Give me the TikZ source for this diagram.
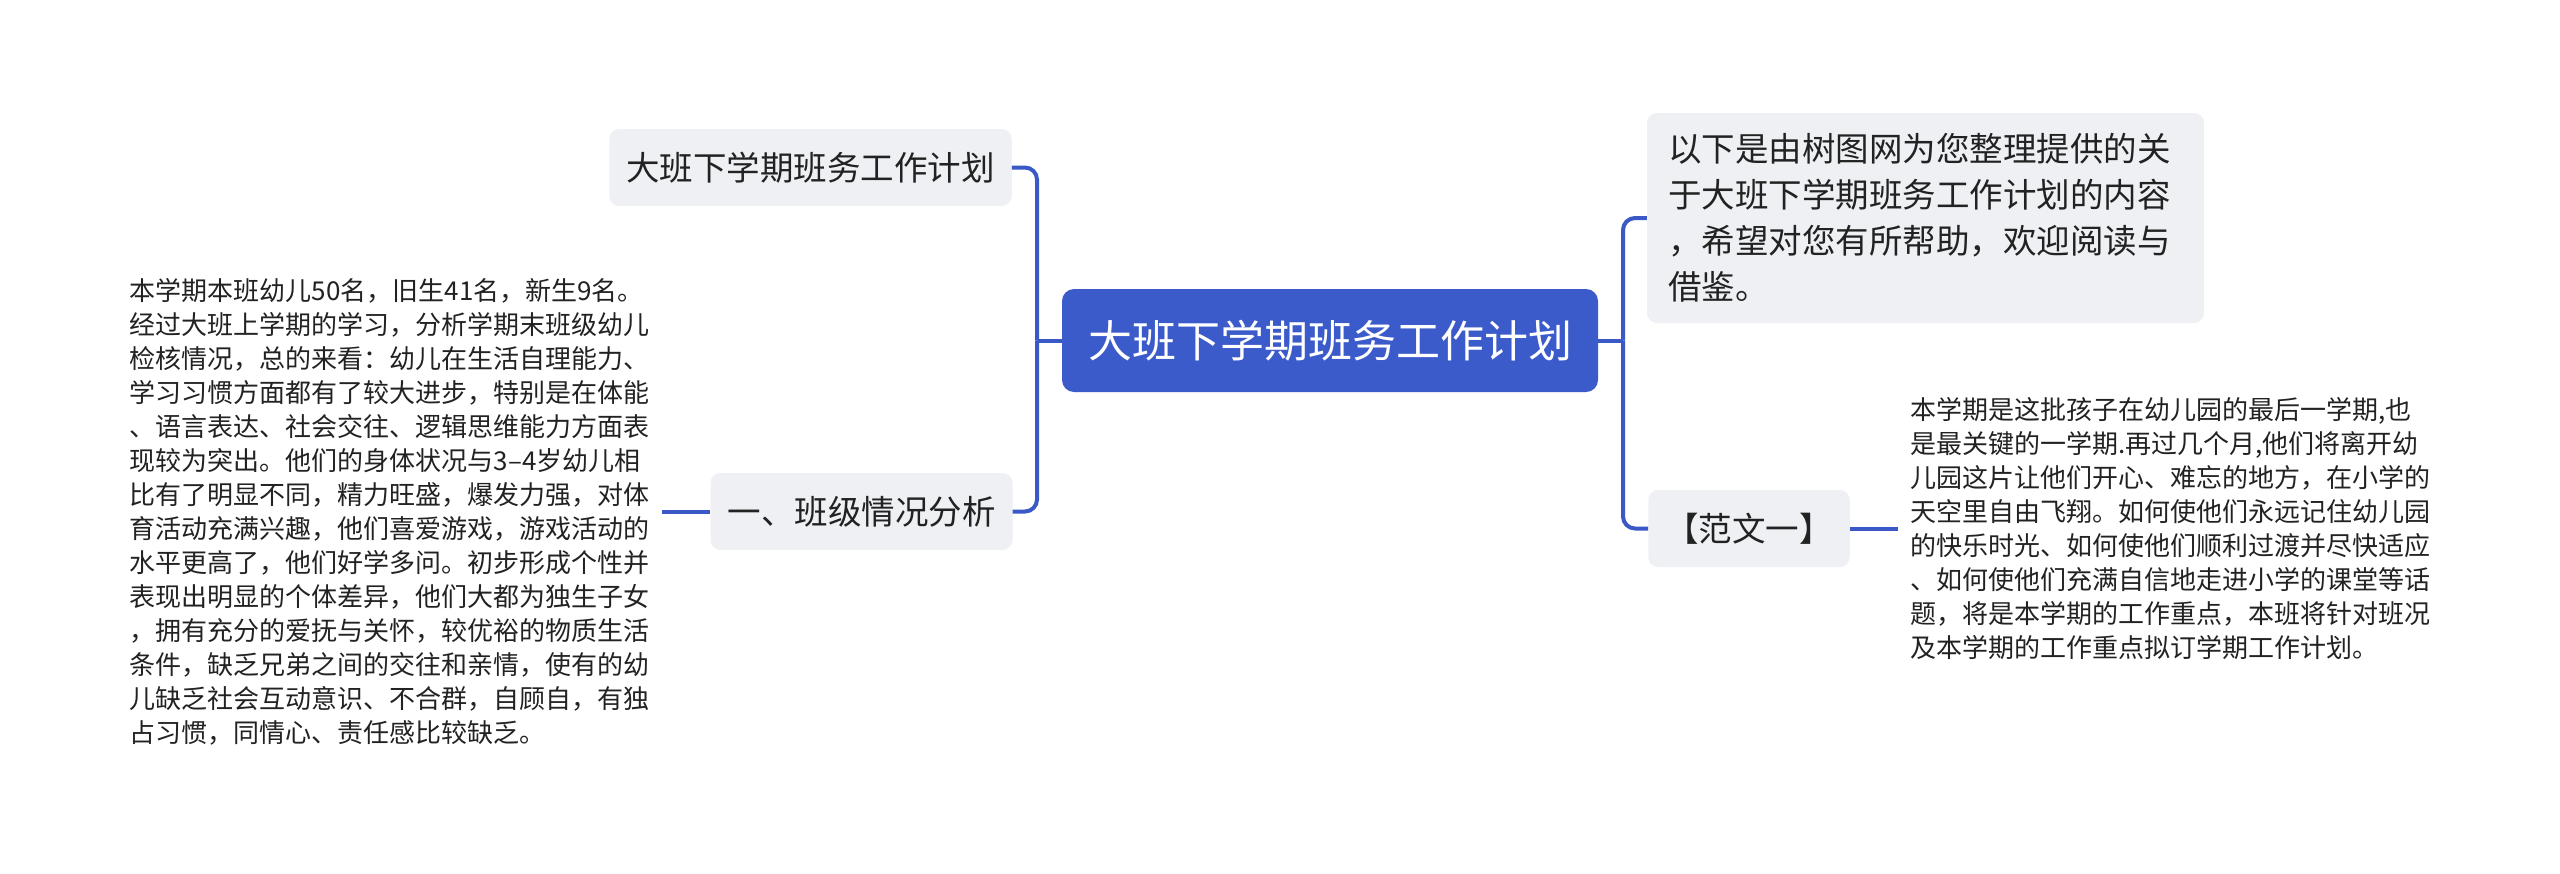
\documentclass[tikz,border=0pt]{standalone}
\usepackage{fontspec}
\setmainfont{Noto Sans CJK SC}
\usepackage{tikz}
\usetikzlibrary{shapes,arrows}
\usetikzlibrary{positioning}
\definecolor{rootblue}{HTML}{3C5BCB}
\definecolor{lineblue}{HTML}{3A59C6}
\definecolor{topicgray}{HTML}{EEF0F4}
\definecolor{textgray}{HTML}{222222}
\tikzstyle{root} = [rectangle, fill=rootblue, rounded corners=12pt, text=white,
    minimum width=536pt, minimum height=103pt, font=\fontsize{44}{52}\selectfont]
\tikzstyle{topic} = [rectangle, fill=topicgray, rounded corners=10pt, text=textgray,
    minimum height=77pt, inner xsep=17pt, font=\fontsize{33.5}{46}\selectfont]
\tikzstyle{note} = [text=textgray, align=left, inner sep=12pt,
    font=\fontsize{26}{34}\selectfont]
\tikzstyle{edge} = [draw=lineblue, line width=4pt, rounded corners=12pt]

\begin{document}
\begin{tikzpicture}[x=1pt, y=-1pt]
  \useasboundingbox [fill=white] (0,0) rectangle (2560,873);
  % Place nodes
  \node [root] (plan) at (1330,340.5) {大班下学期班务工作计划};
  \node [topic] (title) at (810.5,167.5) {大班下学期班务工作计划};
  \node [topic] (analysis) at (861.5,511.5) {一、班级情况分析};
  \node [note, anchor=east] (situation) at (662,511.5)
  {本学期本班幼儿50名，旧生41名，新生9名。\\
   经过大班上学期的学习，分析学期末班级幼儿\\
   检核情况，总的来看：幼儿在生活自理能力、\\
   学习习惯方面都有了较大进步，特别是在体能\\
   、语言表达、社会交往、逻辑思维能力方面表\\
   现较为突出。他们的身体状况与3–4岁幼儿相\\
   比有了明显不同，精力旺盛，爆发力强，对体\\
   育活动充满兴趣，他们喜爱游戏，游戏活动的\\
   水平更高了，他们好学多问。初步形成个性并\\
   表现出明显的个体差异，他们大都为独生子女\\
   ，拥有充分的爱抚与关怀，较优裕的物质生活\\
   条件，缺乏兄弟之间的交往和亲情，使有的幼\\
   儿缺乏社会互动意识、不合群，自顾自，有独\\
   占习惯，同情心、责任感比较缺乏。};
  \node [topic, align=left, text width=515pt, inner xsep=21pt, minimum height=210pt]
  (intro) at (1925.5,218)
  {以下是由树图网为您整理提供的关\\
   于大班下学期班务工作计划的内容\\
   ，希望对您有所帮助，欢迎阅读与\\
   借鉴。};
  \node [topic] (sample) at (1749,528.5) {【范文一】};
  \node [note, anchor=west] (semester) at (1898,528.5)
  {本学期是这批孩子在幼儿园的最后一学期,也\\
   是最关键的一学期.再过几个月,他们将离开幼\\
   儿园这片让他们开心、难忘的地方，在小学的\\
   天空里自由飞翔。如何使他们永远记住幼儿园\\
   的快乐时光、如何使他们顺利过渡并尽快适应\\
   、如何使他们充满自信地走进小学的课堂等话\\
   题，将是本学期的工作重点，本班将针对班况\\
   及本学期的工作重点拟订学期工作计划。};
  \coordinate (leftfork) at (1037,340.5);
  \coordinate (rightfork) at (1623,340.5);
  % Draw edges
  \draw [edge] (plan.west) -- (leftfork);
  \draw [edge] (leftfork) |- (title.east);
  \draw [edge] (leftfork) |- (analysis.east);
  \draw [edge] (analysis.west) -- (situation.east);
  \draw [edge] (plan.east) -- (rightfork);
  \draw [edge] (rightfork) |- (intro.west);
  \draw [edge] (rightfork) |- (sample.west);
  \draw [edge] (sample.east) -- (semester.west);
\end{tikzpicture}
\end{document}
